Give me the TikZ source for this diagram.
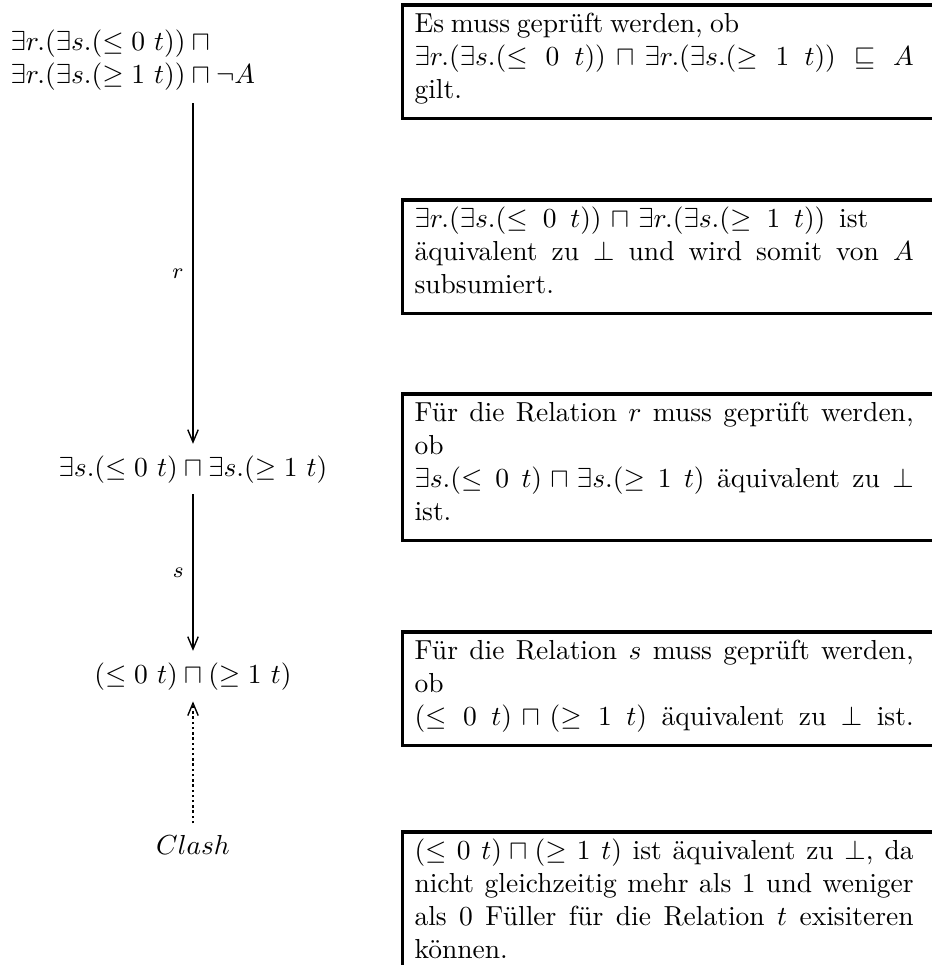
\documentclass[tikz,border=0pt]{standalone}
\usepackage{fontspec}
\usetikzlibrary{arrows.meta}
\newlength\LW \setlength\LW{181.5pt}
% justified line with TeX's normal glue (word spaces and math glue stretch)
\newcommand\jl[2][\LW]{\leavevmode\hbox to #1{\spaceskip=3.33pt plus 1.67pt minus 1.11pt\xspaceskip=4.44pt plus 2.5pt minus 0.37pt\relax #2}}
\newcommand\fst{\rule{0pt}{8pt}}
\newcommand\lst{\rule[-4pt]{0pt}{4pt}}
\hbadness=10000 \hfuzz=5pt
\begin{document}
\begin{tikzpicture}[x=0.36364pt,y=-0.36364pt,
  every node/.style={inner sep=0pt},
  tip/.style={-{Straight Barb[length=4.5pt,width=3.8pt,line width=0.5pt]}},
  arr/.style={tip,line width=0.8pt},
  dotarr/.style={tip,line width=0.8pt,dash pattern=on 0.9pt off 1pt},
  term/.style={inner sep=4pt},
  lbl/.style={font=\footnotesize,inner sep=3pt,left,midway},
  boxtext/.style={anchor=north west,text width=184.4pt,align=left},
  boxline/.style={line width=1.1pt}]
\useasboundingbox (0,0) rectangle (932,965);

% left column
\node[anchor=north west,align=left] (n1) at (10,29.4)
  {$\exists r.(\exists s.(\le 0\ t)) \sqcap{}$\\ $\exists r.(\exists s.(\ge 1\ t)) \sqcap \neg A$};
\coordinate (a1) at (193,103);
\node[term,anchor=base] (n2) at (193,476) {$\exists s.(\le 0\ t) \sqcap \exists s.(\ge 1\ t)$};
\node[term,anchor=base] (n3) at (193,683) {$(\le 0\ t) \sqcap (\ge 1\ t)$};
\node[term,anchor=base] (n4) at (193,854) {$Clash$};
\draw[arr] (a1) -- node[lbl] {$r$} (n2.north);
\draw[arr] (n2.south) -- node[lbl] {$s$} (n3.north);
\draw[dotarr] (n4.north) -- (n3.south);

% right column
\node[boxtext] (b1) at (414,10) {\fst\jl[118pt]{Es muss geprüft werden, ob}\\
  \jl{$\exists r.(\exists s.(\le 0\ t)) \sqcap \exists r.(\exists s.(\ge 1\ t)) \sqsubseteq A$}\\
  gilt.\lst};
\node[boxtext] (b2) at (414,205) {\fst\jl[165pt]{$\exists r.(\exists s.(\le 0\ t)) \sqcap \exists r.(\exists s.(\ge 1\ t))$ ist}\\
  \jl{äquivalent zu $\bot$ und wird somit von $A$}\\
  subsumiert.\lst};
\node[boxtext] (b3) at (414,399) {\fst\jl{Für die Relation $r$ muss geprüft werden,}\\
  ob\\
  \jl{$\exists s.(\le 0\ t) \sqcap \exists s.(\ge 1\ t)$ äquivalent zu $\bot$}\\
  ist.\lst};
\node[boxtext] (b4) at (414,637) {\fst\jl{Für die Relation $s$ muss geprüft werden,}\\
  ob\\
  \jl[181.5pt]{$(\le 0\ t) \sqcap (\ge 1\ t)$ äquivalent zu $\bot$ ist.}\lst};
\node[boxtext] (b5) at (414,837) {\fst\jl{$(\le 0\ t) \sqcap (\ge 1\ t)$ ist äquivalent zu $\bot$, da}\\
  \jl{nicht gleichzeitig mehr als 1 und weniger}\\
  \jl{als 0 Füller für die Relation $t$ exisiteren}\\
  können.\lst};
\foreach \b in {b1,b2,b3,b4,b5}{
  \draw[boxline] ([xshift=-4.36pt,yshift=1.82pt]\b.north west) rectangle ([xshift=20pt,yshift=-3pt]\b.south east);
}
\end{tikzpicture}
\end{document}
